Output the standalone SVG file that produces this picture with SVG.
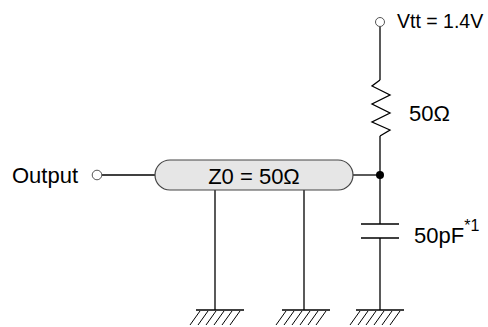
<svg xmlns="http://www.w3.org/2000/svg" width="488" height="327" viewBox="0 0 488 327">
<style>
.w{stroke:#000;stroke-width:1.3;fill:none}
.t{font-family:"Liberation Sans",Arial,sans-serif;font-size:22px;fill:#000}
.h{stroke:#000;stroke-width:1;fill:none}
.term{fill:#fff;stroke:#555;stroke-width:1}
</style>
<defs>
<g id="gnd">
<line class="w" x1="-24" y1="0" x2="24" y2="0"/>
<path class="h" d="M-20,1 l-10,14 M-12,1 l-10,14 M-4,1 l-10,14 M4,1 l-10,14 M12,1 l-10,14 M20,1 l-10,14"/>
</g>
</defs>
<g id="connectors">
<line class="w" x1="102" y1="175" x2="155" y2="175"/>
<line class="w" x1="353" y1="175" x2="380" y2="175"/>
<line class="w" x1="380" y1="26.5" x2="380" y2="80"/>
<polyline class="w" points="380,80 372,86 390,95 372,104 390,113 372,122 390,130 380,136"/>
<line class="w" x1="380" y1="136" x2="380" y2="224"/>
<line class="w" x1="380" y1="238" x2="380" y2="310"/>
<line class="w" x1="215" y1="190" x2="215" y2="310"/>
<line class="w" x1="304" y1="190" x2="304" y2="310"/>
</g>
<g id="output">
<text class="t" x="12" y="183">Output</text>
<circle class="term" cx="97" cy="175" r="4.8"/>
</g>
<g id="line-z0">
<rect x="155" y="160" width="198" height="30" rx="15" ry="15" fill="#e6e6e6" stroke="#444" stroke-width="1.2"/>
<text class="t" x="254" y="184" text-anchor="middle">Z0 = 50Ω</text>
</g>
<g id="vtt">
<circle class="term" cx="380" cy="22" r="4.5"/>
<text class="t" x="397" y="28" style="font-size:19.5px">Vtt = 1.4V</text>
</g>
<g id="resistor">
<text class="t" x="409" y="121">50Ω</text>
</g>
<g id="junction">
<circle cx="380" cy="175" r="4" fill="#000"/>
</g>
<g id="capacitor">
<line class="w" x1="361" y1="224" x2="399" y2="224"/>
<line class="w" x1="361" y1="238" x2="399" y2="238"/>
<text class="t" x="414" y="243">50pF<tspan style="font-size:16px" dy="-12">*1</tspan></text>
</g>
<g id="ground-1"><use href="#gnd" x="220" y="310"/></g>
<g id="ground-2"><use href="#gnd" x="306" y="310"/></g>
<g id="ground-3"><use href="#gnd" x="380" y="310"/></g>
</svg>
